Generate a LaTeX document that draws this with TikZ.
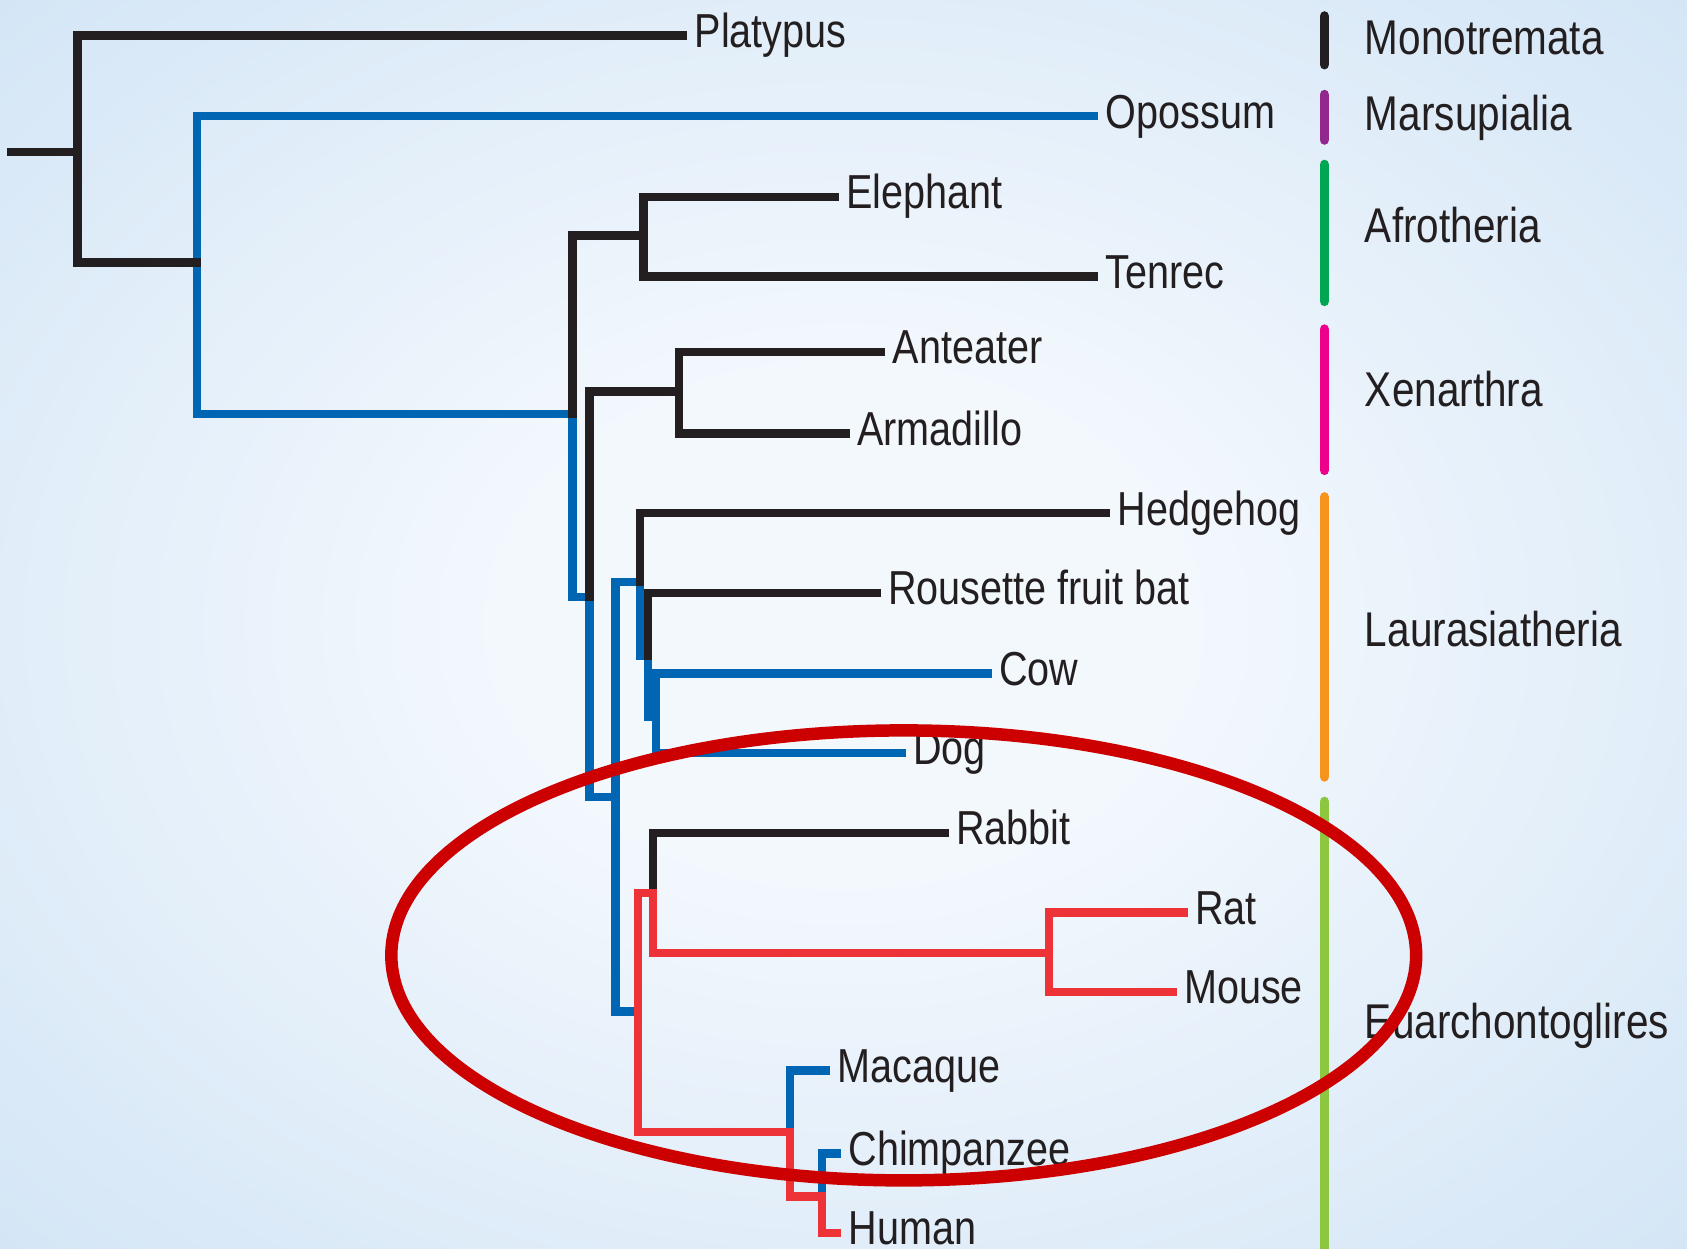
\documentclass[tikz,border=0pt]{standalone}
\usepackage{fontspec}
\newfontfamily\taxfont[FakeStretch=0.83]{Liberation Sans}
\definecolor{treeblack}{HTML}{231F20}
\definecolor{treeblue}{HTML}{0066B3}
\definecolor{treered}{HTML}{EE3338}
\definecolor{ringred}{HTML}{CC0000}
\definecolor{bgin}{HTML}{F3F8FD}
\definecolor{bgout}{HTML}{C2DBF2}
\definecolor{cMono}{HTML}{231F20}
\definecolor{cMars}{HTML}{92278F}
\definecolor{cAfro}{HTML}{00A651}
\definecolor{cXen}{HTML}{EC008C}
\definecolor{cLaur}{HTML}{F7941D}
\definecolor{cEuar}{HTML}{8DC63F}
\pgfdeclareradialshading{bgshade}{\pgfpoint{0bp}{0bp}}{color(0bp)=(bgin); color(10bp)=(bgin); color(50bp)=(bgout); color(72bp)=(bgout)}
\begin{document}
\begin{tikzpicture}[x=0.01cm,y=-0.01cm,
		br/.style={line width=2.2pt,line cap=rect,color=treeblack},
		bl/.style={line width=2.2pt,line cap=rect,color=treeblue},
		rd/.style={line width=2.2pt,line cap=rect,color=treered},
		taxon/.style={anchor=base west,inner sep=0pt,xshift=0.1cm,yshift=-0.11cm,
			text=treeblack,font=\taxfont\fontsize{12.6}{14}\selectfont},
		clade/.style={anchor=base west,inner sep=0pt,
			text=treeblack,font=\taxfont\fontsize{12.9}{15}\selectfont},
		cbar/.style={line width=2.6pt,line cap=round},
		ring/.style={line width=3.3pt,color=ringred}]
		\useasboundingbox (0,0) rectangle (1568,1160);
		\shade[shading=bgshade] (0,0) rectangle (1568,1160);
		
		% leaf ends
		\coordinate (platy) at (635,33);
		\coordinate (opos) at (1017,108);
		\coordinate (eleph) at (776,183);
		\coordinate (tenrec) at (1017,257);
		\coordinate (ant) at (819,327);
		\coordinate (arm) at (786,403);
		\coordinate (hedge) at (1028,477);
		\coordinate (bat) at (815,551);
		\coordinate (cow) at (918,626);
		\coordinate (dog) at (838,700);
		\coordinate (rabbit) at (878,774);
		\coordinate (rat) at (1100,848);
		\coordinate (mouse) at (1090,922);
		\coordinate (mac) at (768,995);
		\coordinate (chimp) at (778,1072);
		\coordinate (human) at (778,1146);
		
		% inner nodes
		\coordinate (root) at (10,141);
		\coordinate (nA) at (72,141);
		\coordinate (nB) at (183,244);
		\coordinate (nC) at (532,385);
		\coordinate (nAf) at (598,219);
		\coordinate (nD) at (548,555);
		\coordinate (nXe) at (631,364);
		\coordinate (nE) at (572,741);
		\coordinate (nL1) at (595,541);
		\coordinate (nL2) at (602,610);
		\coordinate (nL3) at (610,666);
		\coordinate (nEu) at (593,940);
		\coordinate (nGl) at (607,830);
		\coordinate (nRo) at (975,886);
		\coordinate (nPr) at (734,1052);
		\coordinate (nHo) at (764,1112);
		
		% blue lineage
		\draw[bl] (nB) |- (opos);
		\draw[bl] (nB) |- (nC);
		\draw[bl] (nC) |- (nD);
		\draw[bl] (nD) |- (nE);
		\draw[bl] (nE) |- (nL1);
		\draw[bl] (nE) |- (nEu);
		\draw[bl] (nL1) |- (nL2);
		\draw[bl] (nL2) |- (nL3);
		\draw[bl] (nL3) |- (cow);
		\draw[bl] (nL3) |- (dog);
		\draw[bl] (nPr) |- (mac);
		\draw[bl] (nHo) |- (chimp);
		
		% black branches
		\draw[br] (root) -- (nA);
		\draw[br] (nA) |- (platy);
		\draw[br] (nA) |- (nB);
		\draw[br] (nC) |- (nAf);
		\draw[br] (nAf) |- (eleph);
		\draw[br] (nAf) |- (tenrec);
		\draw[br] (nD) |- (nXe);
		\draw[br] (nXe) |- (ant);
		\draw[br] (nXe) |- (arm);
		\draw[br] (nL1) |- (hedge);
		\draw[br] (nL2) |- (bat);
		\draw[br] (nGl) |- (rabbit);
		
		% red lineage
		\draw[rd] (nEu) |- (nGl);
		\draw[rd] (nEu) |- (nPr);
		\draw[rd] (nGl) |- (nRo);
		\draw[rd] (nRo) |- (rat);
		\draw[rd] (nRo) |- (mouse);
		\draw[rd] (nPr) |- (nHo);
		\draw[rd] (nHo) |- (human);
		
		% taxa
		\node[taxon] (tPlaty) at (platy) {Platypus};
		\node[taxon] (tOpos) at (opos) {Opossum};
		\node[taxon] (tEleph) at (eleph) {Elephant};
		\node[taxon] (tTenrec) at (tenrec) {Tenrec};
		\node[taxon] (tAnt) at (ant) {Anteater};
		\node[taxon] (tArm) at (arm) {Armadillo};
		\node[taxon] (tHedge) at (hedge) {Hedgehog};
		\node[taxon] (tBat) at (bat) {Rousette fruit bat};
		\node[taxon] (tCow) at (cow) {Cow};
		\node[taxon] (tDog) at (dog) {Dog};
		\node[taxon] (tRabbit) at (rabbit) {Rabbit};
		\node[taxon] (tRat) at (rat) {Rat};
		\node[taxon] (tMouse) at (mouse) {Mouse};
		\node[taxon] (tMac) at (mac) {Macaque};
		\node[taxon] (tChimp) at (chimp) {Chimpanzee};
		\node[taxon] (tHuman) at (human) {Human};
		
		% clade bars
		\draw[cbar,cMono] (1231,15) -- (1231,60);
		\draw[cbar,cMars] (1231,88) -- (1231,130);
		\draw[cbar,cAfro] (1231,153) -- (1231,280);
		\draw[cbar,cXen] (1231,306) -- (1231,437);
		\draw[cbar,cLaur] (1231,462) -- (1231,722);
		\draw[cbar,cEuar] (1231,745) -- (1231,1170);
		\node[clade] (kMono) at (1268,51) {Monotremata};
		\node[clade] (kMars) at (1268,121) {Marsupialia};
		\node[clade] (kAfro) at (1268,225) {Afrotheria};
		\node[clade] (kXen) at (1268,378) {Xenarthra};
		\node[clade] (kLaur) at (1268,601) {Laurasiatheria};
		\node[clade] (kEuar) at (1268,965) {Euarchontoglires};
		
		% highlight ring
		\draw[ring] (840,888) ellipse [x radius=4.76cm,y radius=2.09cm];
	\end{tikzpicture}
\end{document}
